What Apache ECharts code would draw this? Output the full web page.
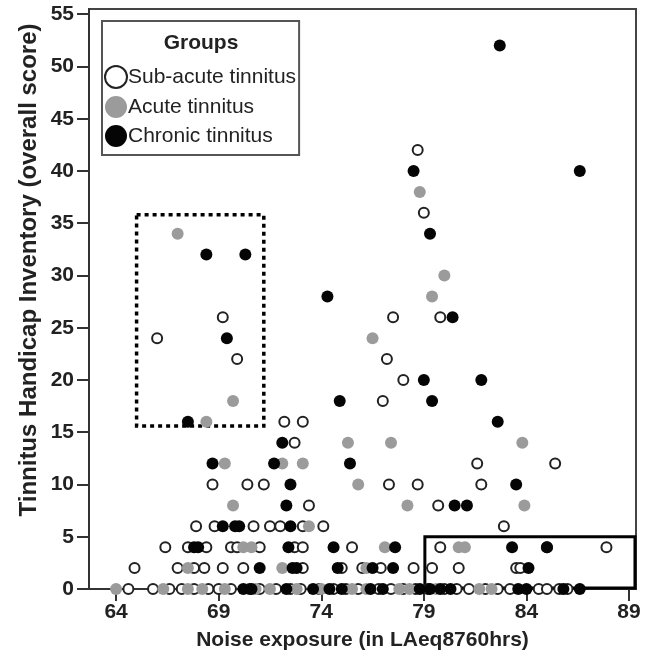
<!DOCTYPE html>
<html>
<head>
<meta charset="utf-8">
<script src="https://cdn.jsdelivr.net/npm/echarts@6/dist/echarts.min.js"></script>
<style>
  html, body { margin: 0; padding: 0; background: #fff; }
  #main { width: 655px; height: 668px; }
</style>
</head>
<body>
<div id="main"></div>
<script>
// noise exposure (x) vs THI score (y), one array per group
const subAcute = [
  [78.7, 42], [79.0, 36], [69.2, 26], [77.5, 26], [79.8, 26], [66.0, 24], [69.9, 22], [77.2, 22],
  [78.0, 20], [77.0, 18], [72.2, 16], [73.1, 16], [72.7, 14], [81.6, 12], [85.4, 12],
  [68.7, 10], [70.4, 10], [71.2, 10], [77.3, 10], [78.7, 10], [81.8, 10],
  [73.4, 8], [79.7, 8],
  [67.9, 6], [68.8, 6], [70.7, 6], [71.5, 6], [72.0, 6], [73.1, 6], [74.1, 6], [82.9, 6],
  [66.4, 4], [67.5, 4], [68.4, 4], [69.6, 4], [69.9, 4], [71.0, 4], [72.7, 4], [73.1, 4],
  [75.5, 4], [79.8, 4], [85.0, 4], [87.9, 4],
  [64.9, 2], [67.0, 2], [67.8, 2], [68.3, 2], [69.2, 2], [70.2, 2], [73.1, 2], [75.0, 2],
  [76.0, 2], [76.9, 2], [78.5, 2], [79.4, 2], [80.7, 2], [83.5, 2], [83.7, 2],
  [64.6, 0], [65.8, 0], [66.6, 0], [67.2, 0], [67.8, 0], [68.5, 0], [69.0, 0], [69.6, 0],
  [70.5, 0], [71.0, 0], [71.8, 0], [72.5, 0], [73.0, 0], [73.9, 0], [74.6, 0], [75.2, 0],
  [75.8, 0], [76.8, 0], [77.4, 0], [78.0, 0], [78.6, 0], [79.2, 0], [80.0, 0], [80.6, 0],
  [81.2, 0], [82.0, 0], [82.6, 0], [83.2, 0], [84.6, 0], [85.0, 0], [85.6, 0], [86.0, 0]
];
const acute = [
  [78.8, 38], [67.0, 34], [80.0, 30], [79.4, 28], [76.5, 24], [69.7, 18], [68.4, 16],
  [75.3, 14], [77.4, 14], [83.8, 14], [69.3, 12], [72.1, 12], [73.1, 12], [75.8, 10],
  [69.7, 8], [78.2, 8], [83.9, 8], [73.4, 6],
  [70.2, 4], [70.6, 4], [77.1, 4], [80.7, 4], [81.0, 4],
  [67.5, 2], [72.1, 2], [76.2, 2],
  [64.0, 0], [66.3, 0], [67.5, 0], [68.2, 0], [69.3, 0], [70.8, 0], [71.5, 0], [72.8, 0],
  [74.0, 0], [75.5, 0], [76.2, 0], [77.8, 0], [78.3, 0], [79.6, 0], [81.7, 0], [82.3, 0]
];
const chronic = [
  [82.7, 52], [78.5, 40], [86.6, 40], [79.3, 34], [68.4, 32], [70.3, 32], [74.3, 28],
  [80.4, 26], [69.4, 24], [79.0, 20], [81.8, 20], [74.9, 18], [79.4, 18], [67.5, 16],
  [82.6, 16], [72.1, 14], [68.7, 12], [71.7, 12], [75.4, 12], [72.5, 10], [83.5, 10],
  [72.3, 8], [80.5, 8], [81.1, 8], [69.2, 6], [69.8, 6], [70.0, 6], [72.5, 6],
  [67.8, 4], [68.0, 4], [72.4, 4], [74.6, 4], [77.6, 4], [83.3, 4], [85.0, 4],
  [71.0, 2], [72.6, 2], [72.8, 2], [74.8, 2], [76.5, 2], [77.5, 2], [84.1, 2],
  [70.2, 0], [70.6, 0], [72.3, 0], [73.6, 0], [74.4, 0], [75.0, 0], [76.4, 0], [77.0, 0],
  [78.8, 0], [79.3, 0], [79.8, 0], [80.3, 0], [83.6, 0], [84.0, 0], [85.8, 0], [86.6, 0]
];
const xTicks = [64, 69, 74, 79, 84, 89];
const yTicks = [0, 5, 10, 15, 20, 25, 30, 35, 40, 45, 50, 55];
// highlight boxes: [xFrom, yTop], [xTo, yBottom]
const dottedBox = [[65.0, 35.8], [71.2, 15.6]];
const solidBox = [[79.05, 5.0], [89.29, 0.1]];

const FONT = "'Liberation Sans', Arial, sans-serif";
const chart = echarts.init(document.getElementById("main"));

const option = {
  animation: false,
  backgroundColor: "#fff",
  grid: {
    left: 89, right: 19, top: 9, bottom: 79,
    show: true, borderColor: "#444", borderWidth: 2
  },
  xAxis: {
    type: "value", min: 62.68, max: 89.34,
    name: "Noise exposure (in LAeq8760hrs)",
    nameLocation: "middle", nameGap: 41,
    nameTextStyle: { fontFamily: FONT, fontSize: 21, fontWeight: "bold", color: "#222" },
    axisLine: { lineStyle: { color: "#333", width: 2 } },
    axisTick: { length: 12, customValues: xTicks, lineStyle: { color: "#333", width: 2 } },
    axisLabel: { customValues: xTicks, margin: 13, fontFamily: FONT, fontSize: 21, fontWeight: "bold", color: "#222" },
    splitLine: { show: false }
  },
  yAxis: {
    type: "value", min: 0, max: 55.5,
    axisLine: { show: true, lineStyle: { color: "#333", width: 2 } },
    axisTick: { show: true, length: 12, customValues: yTicks, lineStyle: { color: "#333", width: 2 } },
    axisLabel: { customValues: yTicks, margin: 15, fontFamily: FONT, fontSize: 21, fontWeight: "bold", color: "#222" },
    splitLine: { show: false }
  },
  legend: {
    left: 102, top: 21, orient: "vertical",
    padding: [44, 3, 8, 2],
    borderColor: "#555", borderWidth: 2,
    icon: "circle", itemWidth: 22, itemHeight: 22, itemGap: 7,
    textStyle: { fontFamily: FONT, fontSize: 21, color: "#222", padding: [0, 0, 0, -4] },
    data: ["Sub-acute tinnitus", "Acute tinnitus", "Chronic tinnitus"]
  },
  graphic: [
    {
      type: "text", x: 201, y: 43,
      style: { text: "Groups", align: "center", verticalAlign: "middle", font: "bold 21px " + FONT, fill: "#222" }
    },
    {
      type: "text", x: 29, y: 270, rotation: Math.PI / 2,
      style: { text: "Tinnitus Handicap Inventory (overall score)", align: "center", verticalAlign: "middle", font: "bold 24px " + FONT, fill: "#222" }
    }
  ],
  series: [
    {
      name: "Sub-acute tinnitus", type: "scatter", data: subAcute, symbolSize: 10,
      itemStyle: { color: "#fff", borderColor: "#222", borderWidth: 2, opacity: 1 }
    },
    {
      name: "Acute tinnitus", type: "scatter", data: acute, symbolSize: 12,
      itemStyle: { color: "#9b9b9b", opacity: 1 }
    },
    {
      name: "Chronic tinnitus", type: "scatter", data: chronic, symbolSize: 12,
      itemStyle: { color: "#050505", opacity: 1 },
      markArea: {
        silent: true,
        data: [
          [
            { coord: dottedBox[0], itemStyle: { color: "rgba(0,0,0,0)", borderColor: "#000", borderWidth: 3.5, borderType: [4, 4] } },
            { coord: dottedBox[1] }
          ],
          [
            { coord: solidBox[0], itemStyle: { color: "rgba(0,0,0,0)", borderColor: "#000", borderWidth: 3, borderType: "solid" } },
            { coord: solidBox[1] }
          ]
        ]
      }
    }
  ]
};
chart.setOption(option);
</script>
</body>
</html>
